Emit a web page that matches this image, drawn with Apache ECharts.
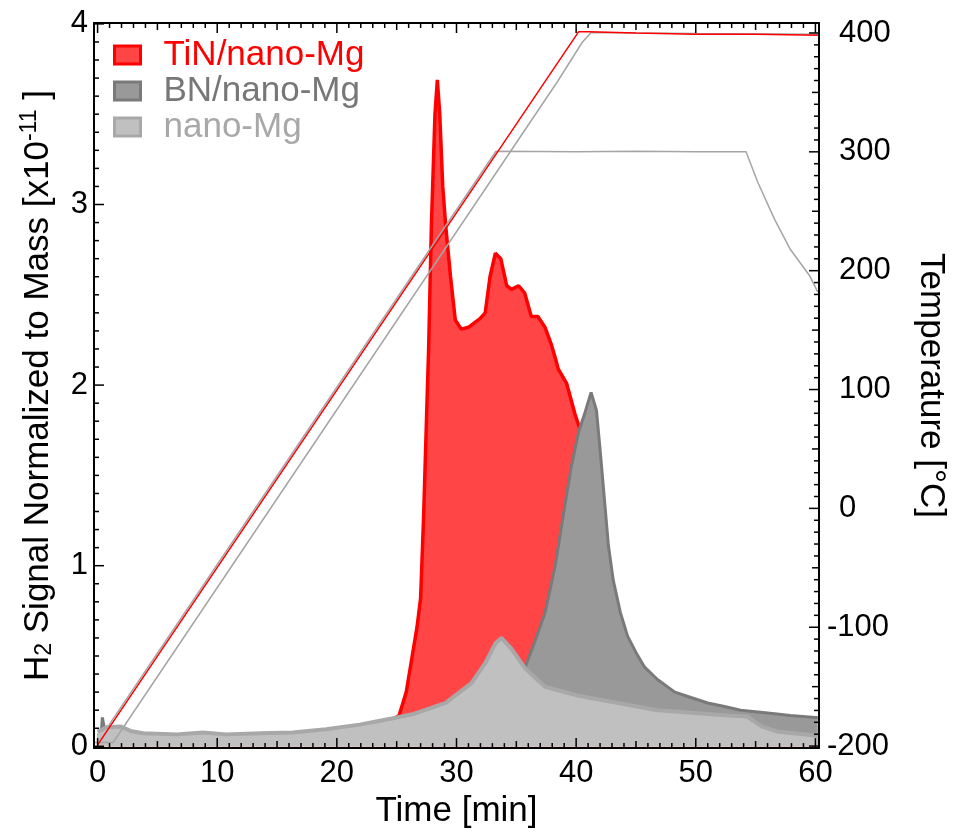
<!DOCTYPE html>
<html><head><meta charset="utf-8">
<script src="https://cdn.jsdelivr.net/npm/echarts@6/dist/echarts.min.js"></script>
<style>html,body{margin:0;padding:0;background:#fff}#c{width:956px;height:834px}</style>
</head><body><div id="c"></div>
<script>
// ---- tick labels ----
const timeTicks = [0, 10, 20, 30, 40, 50, 60];
const h2Ticks = [0, 1, 2, 3, 4];
const tempTicks = [-200, -100, 0, 100, 200, 300, 400];

// ---- TiN/nano-Mg H2 signal ----
const tinTime = [0, 10, 20, 23, 24.5, 25.2, 25.8, 26.3, 26.7, 27.0, 27.25, 27.5, 27.67, 27.9, 28.2, 28.4, 28.6, 28.85, 29.1, 29.5, 29.9, 30.4, 31.0, 31.6, 32.0, 32.4, 32.8, 33.25, 33.7, 34.2, 34.6, 35.2, 35.7, 36.25, 36.8, 37.4, 37.9, 38.3, 38.5, 39.2, 39.9, 40.3, 41, 42, 43, 44, 46, 50, 55, 60];
const tinSignal = [0.05, 0.05, 0.06, 0.10, 0.14, 0.17, 0.30, 0.50, 0.66, 0.82, 1.27, 1.83, 2.20, 2.88, 3.50, 3.69, 3.50, 3.10, 2.88, 2.60, 2.36, 2.31, 2.32, 2.35, 2.37, 2.40, 2.60, 2.73, 2.70, 2.55, 2.53, 2.55, 2.51, 2.38, 2.38, 2.32, 2.23, 2.14, 2.09, 2.01, 1.84, 1.76, 1.50, 1.10, 0.75, 0.50, 0.30, 0.20, 0.15, 0.12];

// ---- BN/nano-Mg H2 signal ----
const bnTime = [0, 0.3, 0.4, 0.55, 0.65, 2, 5, 10, 15, 20, 25, 30, 33, 34, 35, 35.75, 36.6, 37.4, 38.25, 38.9, 39.6, 40.2, 40.75, 41.25, 41.7, 42.1, 42.7, 43.1, 43.7, 44.3, 45.0, 45.7, 46.8, 48.25, 49.6, 51, 52.4, 53.75, 55.2, 56.6, 57.9, 60, 60.2];
const bnSignal = [0.06, 0.07, 0.16, 0.16, 0.07, 0.06, 0.05, 0.05, 0.055, 0.07, 0.12, 0.24, 0.32, 0.36, 0.40, 0.44, 0.59, 0.74, 1.00, 1.27, 1.55, 1.74, 1.85, 1.96, 1.86, 1.57, 1.11, 0.92, 0.74, 0.61, 0.52, 0.44, 0.37, 0.30, 0.27, 0.24, 0.22, 0.20, 0.19, 0.18, 0.17, 0.16, 0.16];

// ---- nano-Mg H2 signal ----
const mgTime = [0, 0.75, 1.9, 2.75, 3.8, 6.6, 8.8, 10.75, 13.6, 16.3, 19.1, 21.9, 23.5, 24.7, 26.3, 29.1, 31.25, 32.4, 33.25, 33.75, 34.6, 35.75, 37.4, 40.2, 43.5, 46.8, 52.7, 54.3, 55.5, 56.9, 60, 60.2];
const mgSignal = [0.08, 0.105, 0.11, 0.085, 0.072, 0.066, 0.077, 0.066, 0.072, 0.077, 0.094, 0.12, 0.14, 0.155, 0.177, 0.24, 0.35, 0.46, 0.57, 0.60, 0.54, 0.43, 0.33, 0.28, 0.24, 0.20, 0.17, 0.165, 0.11, 0.08, 0.06, 0.06];

// ---- temperature traces ----
const tinTempTime = [0, 40.2, 41, 45, 50, 55, 60.3];
const tinTemp = [-199, 401, 401, 400, 399, 399, 398];
const mgTempTime = [0.9, 33.3, 40, 45, 50, 54.2, 55.2, 56.6, 57.9, 59.5, 60.2];
const mgTemp = [-183, 300.5, 300, 300.5, 300, 300, 274, 243, 218, 196, 182];
const bnTempTime = [-0.3, 1.3, 38.5, 40.5, 41.25, 45, 50, 60.3];
const bnTemp = [-197, -197, 360, 392, 400.5, 400, 399.5, 399];

// ---- minor tick steps ----
const timeMinorStep = 1, h2MinorStep = 0.1, tempMinorStep = 10;

const pairs = (xs, ys) => xs.map((x, i) => [x, ys[i]]);
const seq = (a, b, s) => { const r = []; for (let v = a; v <= b + 1e-9; v += s) r.push(+v.toFixed(4)); return r; };
const isMult = (v, m) => Math.abs(v / m - Math.round(v / m)) < 1e-6;

const FONT = "'Liberation Sans', Arial, Helvetica, sans-serif";
const FRAME = { show: true, onZero: false, lineStyle: { color: '#000', width: 2 } };
const X_MIN = -0.3, X_MAX = 60.3, YL_MIN = -0.01, YL_MAX = 4.005, YR_MIN = -201.7, YR_MAX = 408.4;

// tick data: [value, side(0 = bottom/left, 1 = top/right), length]
const xTickVals = seq(0, 60, timeMinorStep);
const xTickData = [];
[0, 1].forEach(side => xTickVals.forEach(v => xTickData.push([v, side, isMult(v, 10) ? 10 : (isMult(v, 5) ? 7 : 5)])));
const lTickData = seq(0, 4, h2MinorStep).map(v => [0, v, isMult(v, 1) ? 10 : 5]);
const rTickData = seq(-200, 400, tempMinorStep).map(v => [1, v, isMult(v, 100) ? 10 : (isMult(v, 50) ? 7 : 5)]);

function tickLine(x1, y1, x2, y2) {
  return { type: 'line', shape: { x1: x1, y1: y1, x2: x2, y2: y2 }, style: { stroke: '#000', lineWidth: 1.5 } };
}
function xTickRender(params, api) {
  const cs = params.coordSys;
  const x = api.coord([api.value(0), YL_MIN])[0];
  const len = api.value(2);
  return api.value(1) === 1 ? tickLine(x, cs.y, x, cs.y + len) : tickLine(x, cs.y + cs.height, x, cs.y + cs.height - len);
}
function yTickRender(params, api) {
  const cs = params.coordSys;
  const y = api.coord([X_MIN, api.value(1)])[1];
  const len = api.value(2);
  return api.value(0) === 1 ? tickLine(cs.x + cs.width, y, cs.x + cs.width - len, y) : tickLine(cs.x, y, cs.x + len, y);
}

const chart = echarts.init(document.getElementById('c'));
chart.setOption({
  animation: false,
  backgroundColor: '#fff',
  textStyle: { fontFamily: FONT },
  grid: { left: 94, top: 23, width: 728, height: 726, show: false },
  legend: {
    left: 113, top: 37, orient: 'vertical', padding: 0, itemGap: 0,
    itemWidth: 26, itemHeight: 18, icon: 'rect',
    textStyle: { fontSize: 35, fontFamily: FONT, lineHeight: 36, padding: [0, 0, 0, 18] },
    data: [
      { name: 'TiN/nano-Mg', itemStyle: { color: '#ff4545', borderColor: '#ff0000', borderWidth: 3 }, textStyle: { color: '#ff0000' } },
      { name: 'BN/nano-Mg', itemStyle: { color: '#999999', borderColor: '#7a7a7a', borderWidth: 3 }, textStyle: { color: '#777777' } },
      { name: 'nano-Mg', itemStyle: { color: '#c0c0c0', borderColor: '#a8a8a8', borderWidth: 3 }, textStyle: { color: '#a8a8a8' } }
    ]
  },
  xAxis: [
    {
      type: 'value', position: 'bottom', min: X_MIN, max: X_MAX, z: 10,
      axisLine: FRAME, splitLine: { show: false }, axisTick: { show: false },
      axisLabel: { customValues: timeTicks, fontSize: 31, color: '#000', margin: 10, fontFamily: FONT },
      name: 'Time [min]', nameLocation: 'middle', nameGap: 42,
      nameTextStyle: { fontSize: 35, color: '#000', fontFamily: FONT }
    },
    {
      type: 'value', position: 'top', min: X_MIN, max: X_MAX, z: 10,
      axisLine: FRAME, splitLine: { show: false }, axisTick: { show: false }, axisLabel: { show: false }
    }
  ],
  yAxis: [
    {
      type: 'value', position: 'left', min: YL_MIN, max: YL_MAX, z: 10,
      axisLine: FRAME, splitLine: { show: false }, axisTick: { show: false },
      axisLabel: { customValues: h2Ticks, fontSize: 31, color: '#000', margin: 6, fontFamily: FONT },
      name: '{a|H}{s|2}{a| Signal Normalized to Mass [x10}{u|-11}{a| ]}',
      nameLocation: 'middle', nameGap: 36,
      nameTextStyle: {
        color: '#000', fontFamily: FONT,
        rich: {
          a: { fontSize: 35, fontFamily: FONT, color: '#000', lineHeight: 40, verticalAlign: 'middle' },
          s: { fontSize: 23, fontFamily: FONT, color: '#000', lineHeight: 40, verticalAlign: 'middle', padding: [14, 0, 0, 0] },
          u: { fontSize: 23, fontFamily: FONT, color: '#000', lineHeight: 40, verticalAlign: 'middle', padding: [0, 0, 16, 0] }
        }
      }
    },
    {
      type: 'value', position: 'right', min: YR_MIN, max: YR_MAX, z: 10,
      axisLine: FRAME, splitLine: { show: false }, axisTick: { show: false },
      axisLabel: {
        customValues: tempTicks, margin: 8, align: 'left',
        formatter: v => (v < 0 ? '{n|' + v + '}' : '{p|' + v + '}'),
        rich: {
          n: { fontSize: 31, color: '#000', fontFamily: FONT },
          p: { fontSize: 31, color: '#000', fontFamily: FONT, padding: [0, 0, 0, 12] }
        }
      },
      name: 'Temperature [°C]', nameLocation: 'middle', nameGap: 94, nameRotate: -90,
      nameTextStyle: { fontSize: 35, color: '#000', fontFamily: FONT }
    }
  ],
  series: [
    {
      name: 'TiN/nano-Mg', type: 'line', xAxisIndex: 0, yAxisIndex: 0, showSymbol: false, z: 2,
      data: pairs(tinTime, tinSignal),
      lineStyle: { color: '#ff0000', width: 3.5 },
      itemStyle: { color: '#ff4545', borderColor: '#ff0000', borderWidth: 3 },
      areaStyle: { color: '#ff4545', opacity: 1 }
    },
    {
      name: 'BN/nano-Mg', type: 'line', xAxisIndex: 0, yAxisIndex: 0, showSymbol: false, z: 3,
      data: pairs(bnTime, bnSignal),
      lineStyle: { color: '#7a7a7a', width: 3 },
      itemStyle: { color: '#999999', borderColor: '#7a7a7a', borderWidth: 3 },
      areaStyle: { color: '#999999', opacity: 1 }
    },
    {
      name: 'nano-Mg', type: 'line', xAxisIndex: 0, yAxisIndex: 0, showSymbol: false, z: 4,
      data: pairs(mgTime, mgSignal),
      lineStyle: { color: '#a8a8a8', width: 4 },
      itemStyle: { color: '#c0c0c0', borderColor: '#a8a8a8', borderWidth: 3 },
      areaStyle: { color: '#c0c0c0', opacity: 1 }
    },
    {
      name: 'T BN', type: 'line', xAxisIndex: 0, yAxisIndex: 1, showSymbol: false,
      data: pairs(bnTempTime, bnTemp), lineStyle: { color: '#a5a5a5', width: 1.5 }, z: 5
    },
    {
      name: 'T nano-Mg', type: 'line', xAxisIndex: 0, yAxisIndex: 1, showSymbol: false,
      data: pairs(mgTempTime, mgTemp), lineStyle: { color: '#a5a5a5', width: 1.5 }, z: 5
    },
    {
      name: 'T TiN', type: 'line', xAxisIndex: 0, yAxisIndex: 1, showSymbol: false,
      data: pairs(tinTempTime, tinTemp), lineStyle: { color: '#ff0000', width: 1.5 }, z: 5
    },
    { name: 'xticks', type: 'custom', xAxisIndex: 0, yAxisIndex: 0, silent: true, z: 10, renderItem: xTickRender, data: xTickData },
    { name: 'lticks', type: 'custom', xAxisIndex: 0, yAxisIndex: 0, silent: true, z: 10, renderItem: yTickRender, data: lTickData },
    { name: 'rticks', type: 'custom', xAxisIndex: 0, yAxisIndex: 1, silent: true, z: 10, renderItem: yTickRender, data: rTickData }
  ]
});
</script></body></html>
